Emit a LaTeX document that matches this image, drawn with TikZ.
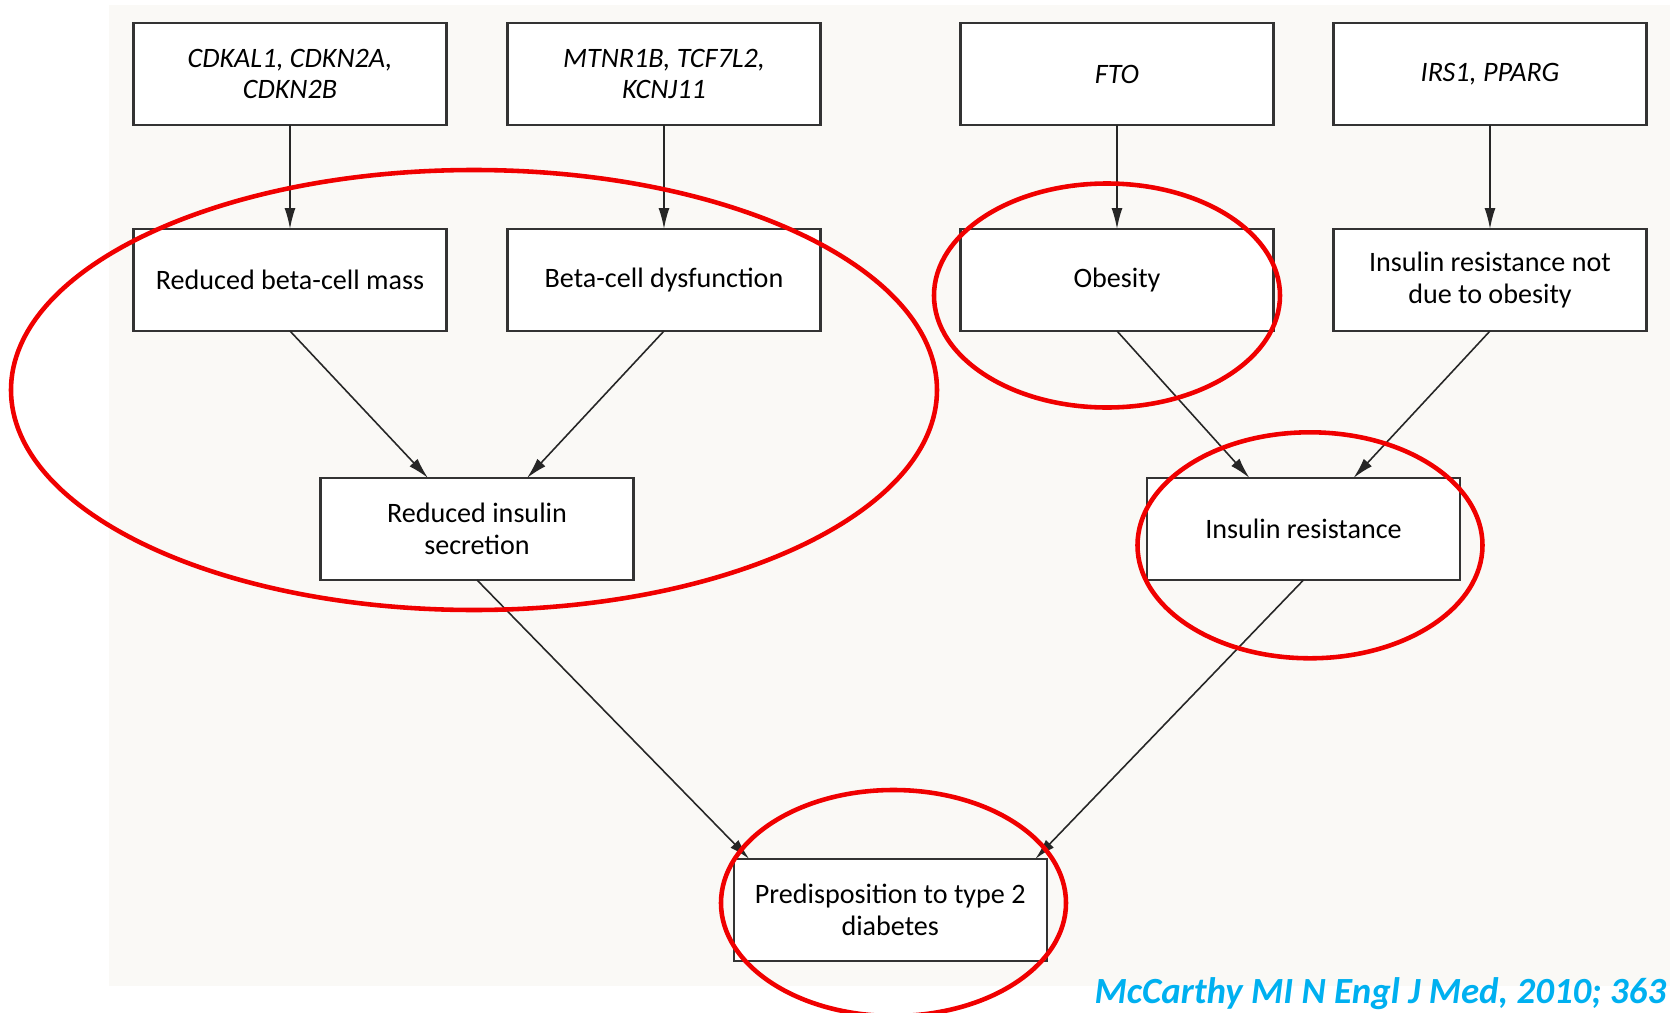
\documentclass[tikz,border=0pt]{standalone}
\usepackage{fontspec}
\setmainfont{Carlito}
\usetikzlibrary{arrows.meta,positioning,calc}
\definecolor{paper}{RGB}{250,249,246}
\definecolor{ringred}{RGB}{240,0,0}
\definecolor{citeblue}{RGB}{0,176,240}

\begin{document}
\begin{tikzpicture}[
  >={Latex[length=2.1mm,width=1.1mm]}, font=\fontsize{8}{9}\selectfont,
  box/.style={draw=black!80, line width=0.7pt, fill=white, minimum width=3.13cm, minimum height=1.02cm, align=center, inner sep=2pt, outer sep=0pt},
  gene/.style={box, font=\fontsize{8}{9}\selectfont\itshape},
  link/.style={->, draw=black!85, line width=0.45pt},
  ring/.style={draw=ringred, line width=1.3pt},
  node distance=1.04cm and 0.61cm
]
\useasboundingbox (0,0) rectangle (16.70,10.12);
\fill[paper] (1.09,0.26) rectangle (16.70,10.07);

% ---------- GENES ----------
\node[gene] (g1) at (2.90,9.38) {CDKAL1, CDKN2A,\\CDKN2B};
\node[gene, right=of g1] (g2) {MTNR1B, TCF7L2,\\KCNJ11};
\node[gene, right=1.40cm of g2] (g3) {FTO};
\node[gene, right=0.60cm of g3] (g4) {IRS1, PPARG};

% ---------- MECHANISMS ----------
\node[box, below=of g1] (bm) {Reduced beta-cell mass};
\node[box, below=of g2] (bd) {Beta-cell dysfunction};
\node[box, below=of g3] (ob) {Obesity};
\node[box, below=of g4] (irn) {Insulin resistance not\\due to obesity};

\coordinate (m1) at ($(bm.south)!0.5!(bd.south)$);
\coordinate (m2) at ($(ob.south)!0.5!(irn.south)$);
\node[box, below=1.47cm of m1] (ris) {Reduced insulin\\secretion};
\node[box, below=1.47cm of m2] (ir) {Insulin resistance};

\coordinate (m3) at ($(ris.south)!0.5!(ir.south)$);
\node[box, below=2.79cm of m3] (pred) {Predisposition to type 2\\diabetes};

\foreach \a/\b in {g1/bm, g2/bd, g3/ob, g4/irn}
  \draw[link] (\a) -- (\b);
\draw[link] (bm.south) -- ($(ris.north)+(-0.49,0)$);
\draw[link] (bd.south) -- ($(ris.north)+(0.50,0)$);
\draw[link] (ob.south) -- ($(ir.north)+(-0.54,0)$);
\draw[link] (irn.south) -- ($(ir.north)+(0.50,0)$);
\draw[link] (ris.south) -- ($(pred.north)+(-1.41,0)$);
\draw[link] (ir.south) -- ($(pred.north)+(1.45,0)$);

% ---------- HIGHLIGHTS ----------
\draw[ring] (4.74,6.22) ellipse [x radius=4.63, y radius=2.20];
\draw[ring] (11.07,7.165) ellipse [x radius=1.73, y radius=1.12];
\draw[ring] (13.10,4.667) ellipse [x radius=1.725, y radius=1.13];
\draw[ring] (8.935,1.09) ellipse [x radius=1.725, y radius=1.13];

\node[font=\fontsize{10.5}{12}\selectfont\bfseries\itshape, text=citeblue, anchor=base west, inner sep=0] (cite) at (10.94,0.09) {McCarthy MI N Engl J Med, 2010; 363};

\end{tikzpicture}
\end{document}
